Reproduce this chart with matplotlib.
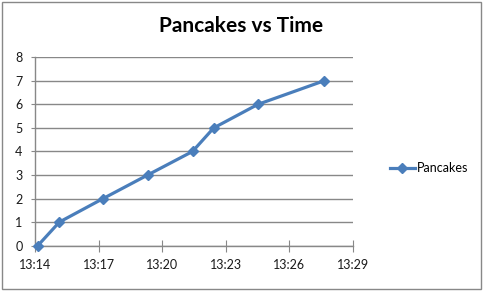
import matplotlib
matplotlib.use("Agg")
import matplotlib.pyplot as plt
import matplotlib.dates as mdates
import pandas as pd
from matplotlib.patches import Rectangle

times = ["13:14:08", "13:15:09", "13:17:13", "13:19:19", "13:21:26", "13:22:26", "13:24:31", "13:27:38"]
pancakes = [0, 1, 2, 3, 4, 5, 6, 7]
x_ticks = ["13:14", "13:17", "13:20", "13:23", "13:26", "13:29"]
y_ticks = [0, 1, 2, 3, 4, 5, 6, 7, 8]
title = "Pancakes vs Time"
series_name = "Pancakes"

day = "2010-01-01 "
tx = pd.to_datetime([day + t for t in times])
xt = pd.to_datetime([day + t for t in x_ticks])

plt.rcParams['font.family'] = ['Lato', 'DejaVu Sans']

fig = plt.figure(figsize=(4.83, 2.91), dpi=100)
ax = fig.add_axes([0.0725, 0.156, 0.658, 0.647])

blue = "#4A7EBB"
grid = "#888888"
ax.plot(tx, pancakes, color=blue, lw=2.3, marker="D", markersize=5.5,
        markerfacecolor=blue, markeredgecolor=blue, label=series_name, zorder=3, clip_on=False)

ax.set_xlim(xt[0], xt[-1])
ax.set_ylim(0, 8)
ax.set_xticks(xt)
ax.xaxis.set_major_formatter(mdates.DateFormatter("%H:%M"))
ax.set_yticks(y_ticks)
ax.yaxis.grid(True, color=grid, lw=1)
ax.set_axisbelow(True)
for s in ["top", "right"]:
    ax.spines[s].set_visible(False)
for s in ["left", "bottom"]:
    ax.spines[s].set_color(grid)
    ax.spines[s].set_linewidth(1)
ax.tick_params(axis="x", direction="inout", length=9, color=grid, labelsize=9, pad=5, labelcolor="#1a1a1a")
ax.tick_params(axis="y", direction="out", length=3, color=grid, labelsize=9, pad=6, labelcolor="#1a1a1a")

fig.text(0.5, 0.91, title, ha="center", va="center", fontsize=15, fontweight="bold")

leg = ax.legend(loc="center left", bbox_to_anchor=(1.08, 0.41), frameon=False, fontsize=9,
                handlelength=2.0, handletextpad=0.2)

fig.patches.append(Rectangle((0.004, 0.007), 0.992, 0.986, transform=fig.transFigure,
                             fill=False, edgecolor="#888888", lw=1))

fig.savefig("out.png", dpi=100)
